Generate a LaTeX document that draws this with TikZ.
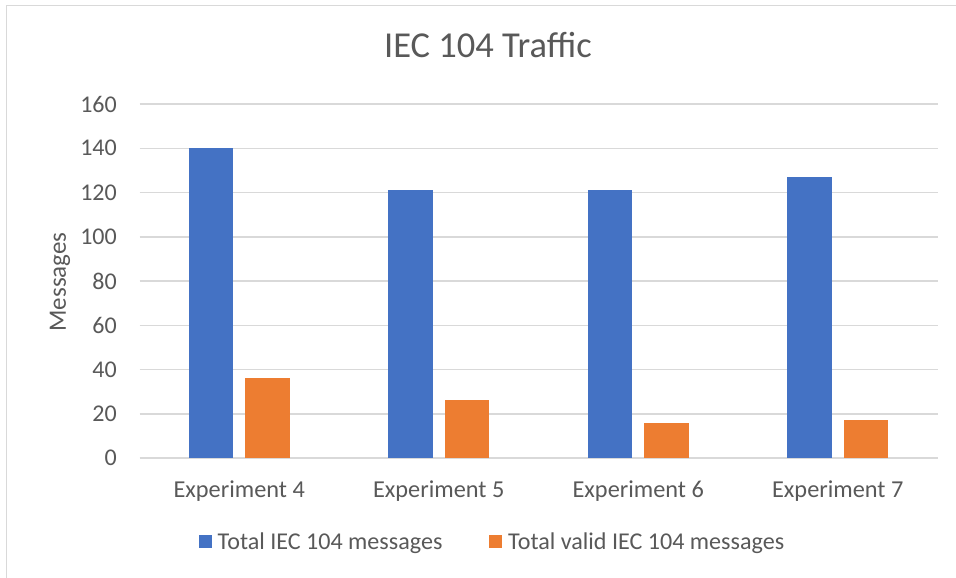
\documentclass[tikz,border=0pt]{standalone}
\usepackage{fontspec}
\setmainfont{Carlito}
\definecolor{barblue}{HTML}{4472C4}
\definecolor{barorange}{HTML}{ED7D31}
\definecolor{gridgray}{HTML}{D9D9D9}
\definecolor{labelgray}{HTML}{595959}
\begin{document}
\begin{tikzpicture}[x=1pt,y=-1pt,
  gridline/.style={draw=gridgray,line width=1.5pt},
  ticklabel/.style={anchor=east,text=labelgray,font=\fontsize{24}{27}\selectfont,inner sep=0pt},
  catlabel/.style={anchor=base,text=labelgray,font=\fontsize{24.3}{27}\selectfont,inner sep=0pt},
  legendtext/.style={anchor=base west,text=labelgray,font=\fontsize{24.1}{27}\selectfont,inner sep=0pt},
  bluebar/.style={fill=barblue},
  orangebar/.style={fill=barorange}]
\useasboundingbox (0,0) rectangle (956,578);
\fill[white] (0,0) rectangle (956,578);
% chart frame (left and top edges)
\draw[draw=gridgray,line width=1.5pt] (6.5,578) -- (6.5,5.5) -- (956,5.5);
% title
\node[anchor=base,text=labelgray,font=\fontsize{36.5}{40}\selectfont,inner sep=0pt] (title) at (488,58) {IEC 104 Traffic};
% gridlines and value labels
\foreach \v in {0,20,...,160}{
  \pgfmathsetmacro{\yy}{458-2.2125*\v}
  \draw[gridline] (139.5,\yy) -- (937.5,\yy);
  \node[ticklabel] (tick\v) at (117,\yy) {\v};
}
% axis title
\node[rotate=90,text=labelgray,font=\fontsize{25}{28}\selectfont,inner sep=0pt] (ytitle) at (60,282) {Messages};
% bars: category centre, total, valid
\foreach \c/\tot/\val/\n in {239.25/140/36/4, 438.75/121/26/5, 638.25/121/16/6, 837.75/127/17/7}{
  \fill[bluebar] (\c-50.5,458) rectangle (\c-6,458-2.2125*\tot);
  \fill[orangebar] (\c+6,458) rectangle (\c+50.5,458-2.2125*\val);
  \node[catlabel] (cat\n) at (\c,497) {Experiment \n};
}
% legend
\fill[bluebar] (198.5,534.5) rectangle (212,548);
\node[legendtext] (legtotal) at (217.5,549) {Total IEC 104 messages};
\fill[orangebar] (488.5,534.5) rectangle (502,548);
\node[legendtext] (legvalid) at (508,549) {Total valid IEC 104 messages};
\end{tikzpicture}
\end{document}
